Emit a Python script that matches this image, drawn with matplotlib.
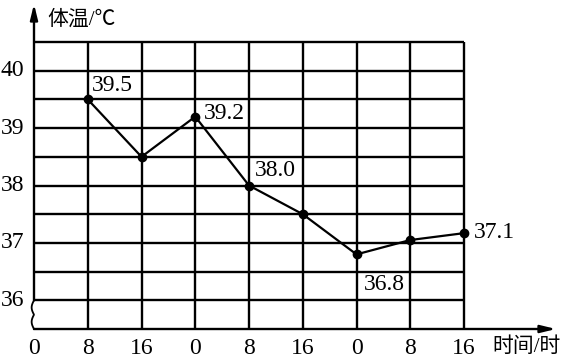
import numpy as np
import matplotlib.pyplot as plt

plt.rcParams['font.family'] = ['Liberation Serif', 'Noto Sans CJK SC']

# data
hours = [8, 16, 24, 32, 40, 48, 56, 64]
temps = [39.5, 38.5, 39.2, 38.0, 37.5, 36.8, 37.05, 37.17]
point_labels = {0: '39.5', 2: '39.2', 3: '38.0', 7: '37.1', 5: '36.8'}
label_offsets = {0: (4, 14), 2: (9, 3), 3: (6, 15), 7: (10, 1), 5: (7, -30)}
x_ticks = [0, 8, 16, 24, 32, 40, 48, 56, 64]
x_tick_labels = ['0', '8', '16', '0', '8', '16', '0', '8', '16']
y_ticks = [36, 37, 38, 39, 40]

W, H = 564, 359
fig = plt.figure(figsize=(W / 100, H / 100), dpi=100)
# pixel layout: x=0 at px 34, x=64 at px 464; y=35.5 at px 329, y=40.5 at px 42
x0, x64 = 34, 464
y355, y405 = 329, 42
sx = (x64 - x0) / 64
sy = (y355 - y405) / 5
xmax = 64 + (556 - x64) / sx
ymax = 40.5 + (y405 - 4) / sy
ax = fig.add_axes([x0 / W, (H - y355) / H, (556 - x0) / W, (y355 - 4) / H])
ax.set_xlim(0, xmax)
ax.set_ylim(35.5, ymax)
ax.axis('off')

lw = 1.7
k = 'black'
# grid
for yv in np.arange(36, 40.51, 0.5):
    ax.plot([0, 64], [yv, yv], color=k, lw=lw, solid_capstyle='butt')
for xv in x_ticks[1:]:
    ax.plot([xv, xv], [35.5, 40.5], color=k, lw=lw, solid_capstyle='butt')

# axes with arrows
ax.annotate('', xy=(xmax, 35.5), xytext=(0, 35.5),
            arrowprops=dict(arrowstyle='-|>,head_length=0.9,head_width=0.22', color=k, lw=lw,
                            shrinkA=0, shrinkB=0), annotation_clip=False)
ax.annotate('', xy=(0, ymax), xytext=(0, 36),
            arrowprops=dict(arrowstyle='-|>,head_length=0.9,head_width=0.22', color=k, lw=lw,
                            shrinkA=0, shrinkB=0), annotation_clip=False)
# axis break squiggle
t = np.linspace(0, 1, 60)
sq_y = 36 - 0.5 * t
sq_x = -0.35 * np.abs(np.sin(t * 2 * np.pi))
ax.plot(sq_x, sq_y, color=k, lw=1.3, clip_on=False)

# data line
ax.plot(hours, temps, color=k, lw=1.6, marker='o', markersize=6, clip_on=False)
for i, txt in point_labels.items():
    dx, dy = label_offsets[i]
    ax.annotate(txt, (hours[i], temps[i]), xytext=(dx, dy), textcoords='offset pixels',
                ha='left', va='center', fontsize=17, annotation_clip=False)

# tick labels
for xv, lab in zip(x_ticks, x_tick_labels):
    ax.annotate(lab, (xv, 35.5), xytext=(0, -19), textcoords='offset pixels',
                ha='center', va='center', fontsize=17, annotation_clip=False)
for yv in y_ticks:
    ax.annotate(str(yv), (0, yv), xytext=(-10, 0), textcoords='offset pixels',
                ha='right', va='center', fontsize=17, annotation_clip=False)

fig.text(47 / W, 1 - 20 / H, '体温/℃', ha='left', va='center', fontsize=15)
fig.text(561 / W, 1 - 347 / H, '时间/时', ha='right', va='center', fontsize=15)

fig.savefig('out.png', dpi=100)
